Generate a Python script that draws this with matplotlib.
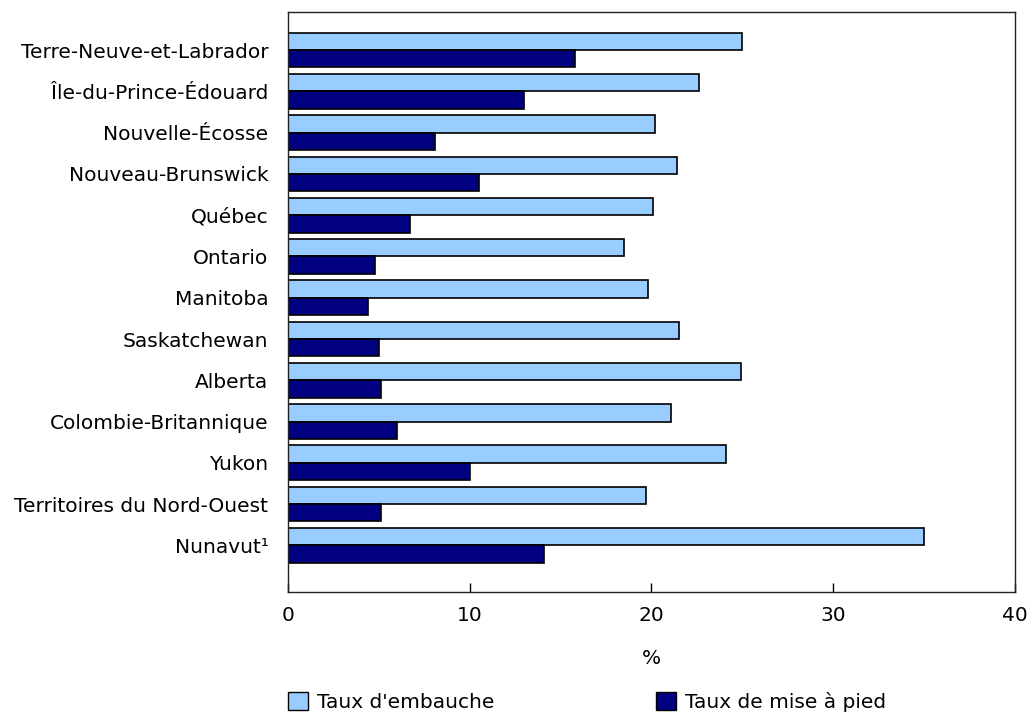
import matplotlib
matplotlib.use("Agg")
import matplotlib.pyplot as plt
import numpy as np
from matplotlib.patches import Patch

provinces = ["Terre-Neuve-et-Labrador", "Île-du-Prince-Édouard", "Nouvelle-Écosse",
             "Nouveau-Brunswick", "Québec", "Ontario", "Manitoba", "Saskatchewan",
             "Alberta", "Colombie-Britannique", "Yukon", "Territoires du Nord-Ouest",
             "Nunavut¹"]
hiring = [25.0, 22.6, 20.2, 21.4, 20.1, 18.5, 19.8, 21.5, 24.9, 21.1, 24.1, 19.7, 35.0]
layoff = [15.8, 13.0, 8.1, 10.5, 6.7, 4.8, 4.4, 5.0, 5.1, 6.0, 10.0, 5.1, 14.1]
xticks = [0, 10, 20, 30, 40]

c_hire = "#99CCFF"
c_lay = "#000080"

plt.rcParams["font.family"] = "DejaVu Sans"
plt.rcParams["font.size"] = 14.5

fig = plt.figure(figsize=(10.32, 7.12), dpi=100)
ax = fig.add_axes([0.279, 0.1685, 0.7045, 0.8145])

y = np.arange(len(provinces))
h = 0.42
ax.barh(y - h / 2, hiring, height=h, color=c_hire, edgecolor="black", linewidth=1.2)
ax.barh(y + h / 2, layoff, height=h, color=c_lay, edgecolor="black", linewidth=1.2)

ax.set_ylim(len(provinces) - 1 + 1.13, -0.92)
ax.set_xlim(0, 40)
ax.set_yticks(y)
ax.set_yticklabels(provinces)
ax.set_xticks(xticks)
ax.tick_params(axis="y", length=0, pad=14)
ax.tick_params(axis="x", direction="in", length=6.5, width=1, pad=10, colors="black")
for s in ax.spines.values():
    s.set_color("#222222")
    s.set_linewidth(1)
ax.set_xlabel("%", labelpad=17)

handles = [Patch(facecolor=c_hire, edgecolor="black", label="Taux d'embauche"),
           Patch(facecolor=c_lay, edgecolor="black", label="Taux de mise à pied")]
fig.legend(handles=handles, loc="center left", bbox_to_anchor=(0.279, 0.014), ncol=2,
           frameon=False, handlelength=1.0, handleheight=1.0, handletextpad=0.45,
           columnspacing=8.0, borderaxespad=0, borderpad=0)

fig.savefig("out.png", dpi=100)
